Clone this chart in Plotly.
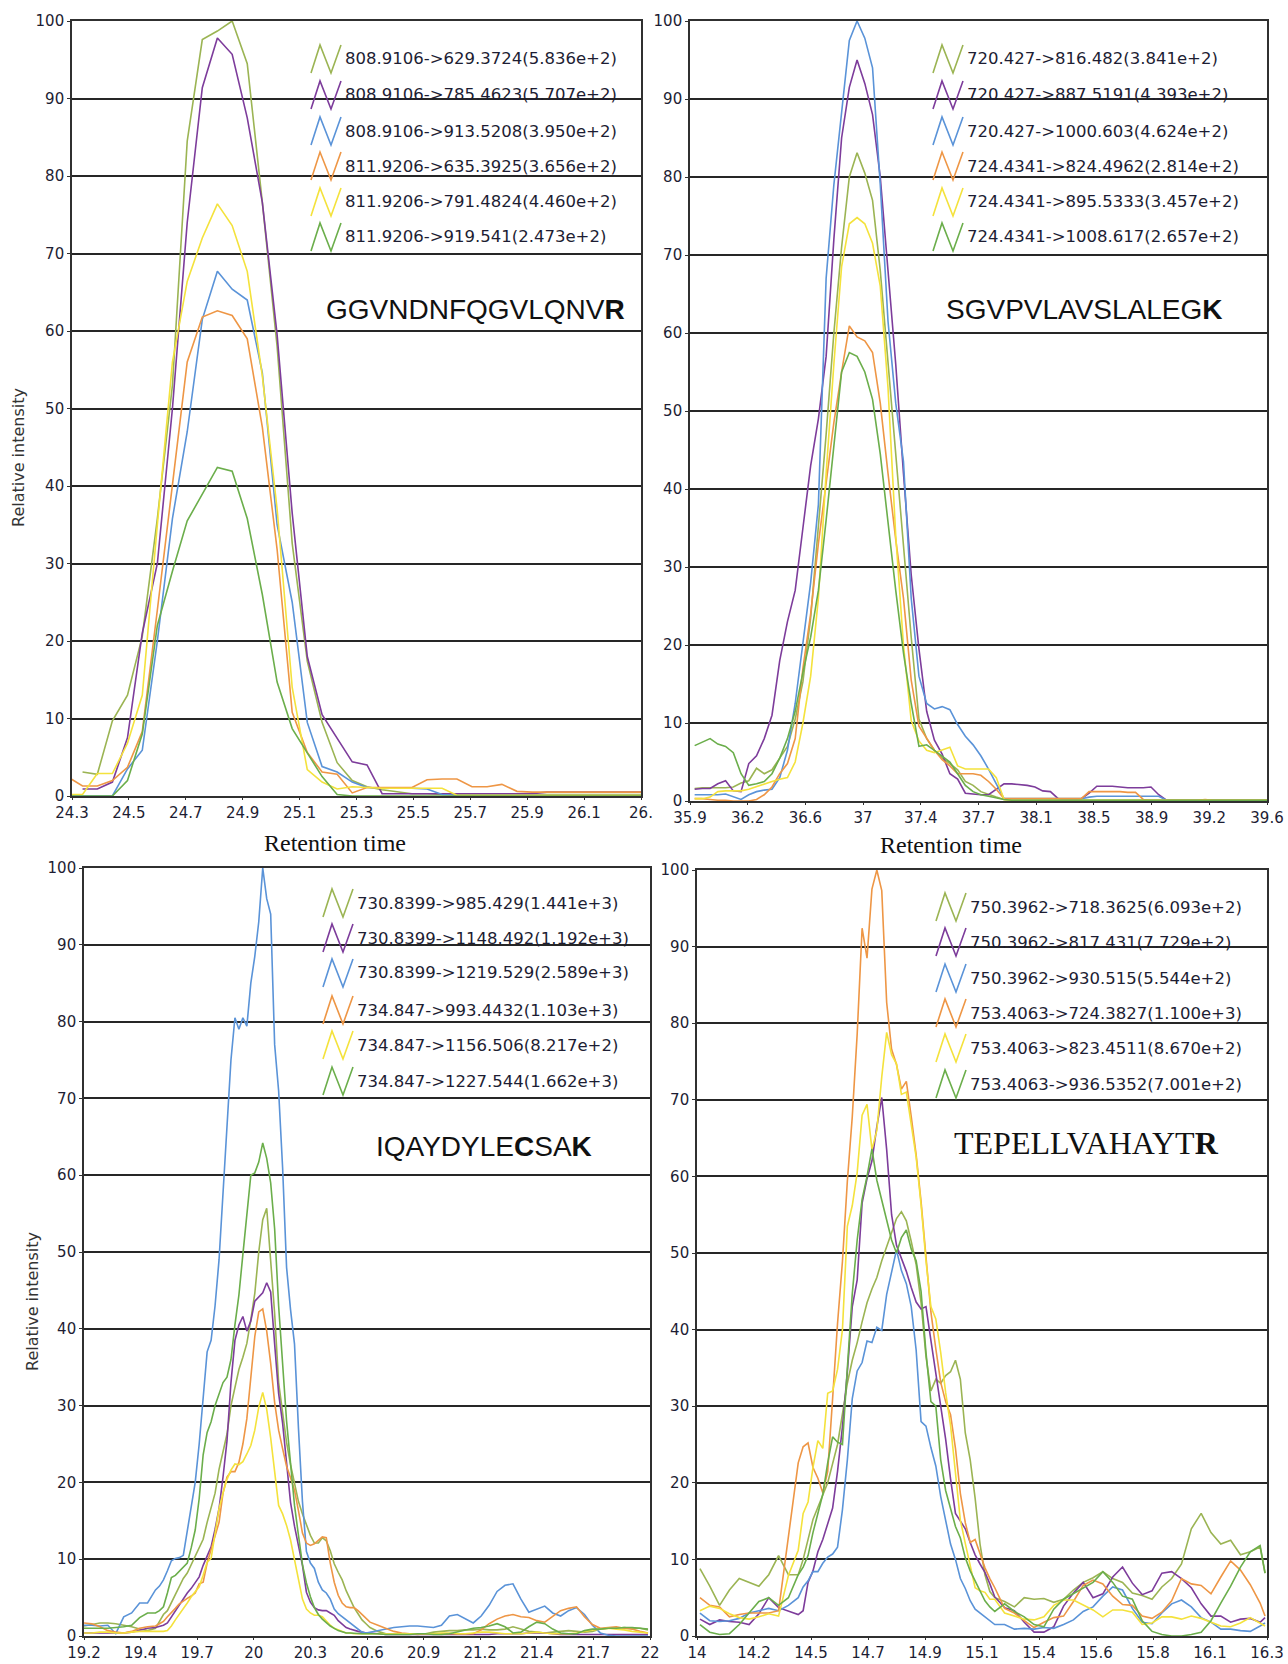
import plotly.graph_objects as go

FIG_W, FIG_H = 1288, 1664
COLORS = ["#9BB453", "#7D3C9B", "#5A93D8", "#EE9645", "#F4E23C", "#6BAE4B"]

# ---------------- Panel 1 : GGVNDNFQGVLQNVR ----------------
P1_LABELS = ["808.9106->629.3724(5.836e+2)", "808.9106->785.4623(5.707e+2)",
             "808.9106->913.5208(3.950e+2)", "811.9206->635.3925(3.656e+2)",
             "811.9206->791.4824(4.460e+2)", "811.9206->919.541(2.473e+2)"]
P1_TICKVALS = [24.3, 24.5, 24.7, 24.9, 25.1, 25.3, 25.5, 25.7, 25.9, 26.1, 26.3]
P1_TICKTEXT = ["24.3", "24.5", "24.7", "24.9", "25.1", "25.3", "25.5", "25.7", "25.9", "26.1", "26."]
P1_TIME = [24.284, 24.337, 24.389, 24.442, 24.495, 24.547, 24.600, 24.653, 24.705, 24.758,
           24.811, 24.863, 24.916, 24.969, 25.021, 25.074, 25.127, 25.179, 25.232, 25.285,
           25.337, 25.390, 25.443, 25.495, 25.548, 25.601, 25.653, 25.706, 25.759, 25.811,
           25.864, 25.917, 25.969, 26.022, 26.075, 26.127, 26.180, 26.233, 26.285, 26.338]
P1_S1 = [None, 3.1, 2.8, 9.7, 13, 20.6, 35.8, 53, 84.5, 97.6,
         98.7, 100, 94.5, 76.6, 58, 32.6, 17.4, 9.5, 4.3, 2,
         1.2, 0.8, 0.5, 0.3, 0.3, 0.2, 0.2, 0.2, 0.2, 0.2,
         0.2, 0.2, 0.2, 0.2, 0.2, 0.2, 0.2, 0.2, 0.2, 0.2]
P1_S2 = [None, 0.9, 0.9, 1.8, 7.5, 21, 30, 50, 74, 91.4,
         97.8, 95.7, 87.5, 76.6, 59.5, 36.5, 18, 10.5, 7.5, 4.4,
         4.0, 0.3, 0.3, 0.3, 0.3, 0.3, 0.3, 0.3, 0.3, 0.3,
         0.3, 0.3, 0.5, 0.5, 0.5, 0.5, 0.5, 0.5, 0.5, 0.5]
P1_S3 = [0, 0, 0, 0, 3.5, 5.9, 20, 35.8, 47, 61.5,
         67.7, 65.4, 64, 54.6, 35, 25, 9.5, 3.8, 3.1, 1.8,
         1.1, 1, 1, 1, 0.9, 0.2, 0.1, 0.1, 0.1, 0.1,
         0.1, 0.1, 0.1, 0.1, 0.1, 0.1, 0.1, 0.1, 0.1, 0.1]
P1_S4 = [2.5, 1.3, 1.3, 2, 3.7, 8.3, 24, 40, 56, 61.8,
         62.6, 62, 59, 47.6, 31.8, 10.8, 5.6, 3.1, 2.8, 0.4,
         1.1, 1.1, 1.1, 1.1, 2.1, 2.2, 2.2, 1.2, 1.2, 1.5,
         0.6, 0.5, 0.5, 0.5, 0.5, 0.5, 0.5, 0.5, 0.5, 0.5]
P1_S5 = [0.2, 0.2, 2.9, 2.9, 6.8, 13, 35, 56, 66.4, 72,
         76.4, 73.6, 67.7, 54.2, 37, 14, 3.4, 1.8, 0.9, 1.2,
         1.1, 1, 1, 1, 1, 1, 0.1, 0.1, 0.1, 0.1,
         0.1, 0.1, 0.1, 0.1, 0.1, 0.1, 0.1, 0.1, 0.1, 0.1]
P1_S6 = [0, 0, 0, 0, 2, 8, 22, 29, 35.5, 39,
         42.4, 41.9, 35.8, 26, 14.7, 8.7, 5.5, 2.5, 0.2, 0,
         0, 0, 0, 0, 0, 0, 0, 0, 0, 0,
         0, 0, 0, 0, 0, 0, 0, 0, 0, 0]

# ---------------- Panel 2 : SGVPVLAVSLALEGK ----------------
P2_LABELS = ["720.427->816.482(3.841e+2)", "720.427->887.5191(4.393e+2)",
             "720.427->1000.603(4.624e+2)", "724.4341->824.4962(2.814e+2)",
             "724.4341->895.5333(3.457e+2)", "724.4341->1008.617(2.657e+2)"]
P2_TICKVALS = [35.87, 36.243, 36.616, 36.989, 37.362, 37.735, 38.108, 38.481, 38.854, 39.227, 39.6]
P2_TICKTEXT = ["35.9", "36.2", "36.6", "37", "37.4", "37.7", "38.1", "38.5", "38.9", "39.2", "39.6"]
P2_TIME = [35.90, 35.95, 36.00, 36.05, 36.10, 36.15, 36.20, 36.25, 36.30, 36.35,
           36.40, 36.45, 36.50, 36.55, 36.60, 36.65, 36.70, 36.75, 36.80, 36.85,
           36.90, 36.95, 37.00, 37.05, 37.10, 37.15, 37.20, 37.25, 37.30, 37.35,
           37.40, 37.45, 37.50, 37.55, 37.60, 37.65, 37.70, 37.75, 37.80, 37.85,
           37.90, 37.95, 38.00, 38.05, 38.10, 38.15, 38.20, 38.25, 38.30, 38.35,
           38.40, 38.45, 38.50, 38.55, 38.60, 38.65, 38.70, 38.75, 38.80, 38.85,
           38.90, 38.95, 39.00, 39.05, 39.10, 39.15, 39.20, 39.25, 39.30, 39.35,
           39.40, 39.45, 39.50, 39.55, 39.60]
P2_S1 = [1.6, 1.7, 1.7, 1.7, 1.7, 1.8, 2.3, 2.6, 4.2, 3.5,
         4, 5.5, 7, 10.5, 15.3, 23.5, 35, 47, 60, 71,
         80, 83.1, 80.5, 77, 68, 56, 44, 32, 21, 10.5,
         8, 6.5, 5.5, 4.8, 4, 2.5, 2, 1.2, 0.8, 0.5,
         0.2, 0.1, 0.1, 0.1, 0.1, 0.1, 0.1, 0.1, 0.1, 0.1,
         0.1, 0.1, 0.1, 0.1, 0.1, 0.1, 0.1, 0.1, 0.1, 0.1,
         0.1, 0.1, 0.1, 0.1, 0.1, 0.1, 0.1, 0.1, 0.1, 0.1,
         0.1, 0.1, 0.1, 0.1, 0.1]
P2_S2 = [1.5, 1.6, 1.6, 2.2, 2.6, 1.3, 1.2, 4.8, 5.8, 8,
         11, 18, 23, 27, 35, 43, 49, 57, 72, 85,
         91.5, 95, 92, 88, 80, 68, 56, 42, 29, 19.5,
         11.5, 7.8, 6, 3.5, 2.8, 1.0, 0.9, 0.8, 0.8, 1.5,
         2.2, 2.2, 2.1, 2.0, 1.8, 1.3, 1.2, 0.3, 0.2, 0.2,
         0.3, 1.0, 1.9, 1.9, 1.9, 1.8, 1.7, 1.7, 1.7, 1.8,
         0.8, 0.1, 0.1, 0.1, 0.1, 0.1, 0.1, 0.1, 0.1, 0.1,
         0.1, 0.1, 0.1, 0.1, 0.1]
P2_S3 = [0.8, 0.8, 0.8, 0.8, 0.9, 0.6, 0.2, 0.8, 1.2, 1.4,
         1.5, 3, 6.5, 12.5, 20, 28, 38, 67, 79, 88.5,
         97.5, 100, 97.8, 94, 79, 61.5, 51, 43.5, 26, 16,
         12.5, 11.8, 12.1, 11.7, 9.8, 8.3, 7.2, 5.8, 4.1, 2.2,
         0.3, 0.3, 0.3, 0.3, 0.3, 0.3, 0.3, 0.3, 0.3, 0.3,
         0.3, 0.5, 0.6, 0.6, 0.6, 0.6, 0.6, 0.6, 0.6, 0.6,
         0.6, 0.1, 0.1, 0.1, 0.1, 0.1, 0.1, 0.1, 0.1, 0.1,
         0.1, 0.1, 0.1, 0.1, 0.1]
P2_S4 = [0.3, 0.3, 0.2, 0.1, 0.1, 0, 0, 0, 0.2, 0.8,
         1.8, 3.5, 4.8, 8, 17, 24, 33, 41, 48.5, 55,
         60.9, 59.5, 59, 57.5, 51, 42, 33.5, 26, 15.5, 9.6,
         8, 6.5, 5.3, 4.5, 3.5, 3.5, 3.5, 3.3, 2.5, 1.5,
         0.3, 0.3, 0.3, 0.3, 0.3, 0.3, 0.3, 0.3, 0.3, 0.3,
         0.3, 1.2, 1.2, 1.2, 1.2, 1.2, 1.1, 1.1, 0.2, 0.1,
         0.1, 0.1, 0.1, 0.1, 0.1, 0.1, 0.2, 0.1, 0.1, 0.1,
         0.1, 0.1, 0.1, 0.1, 0.1]
P2_S5 = [0.3, 0.3, 0.5, 1.2, 1.3, 1.3, 1.3, 1.5, 1.8, 2.2,
         2.5, 2.8, 3, 5, 10, 16, 26, 42, 56, 68.5,
         74, 74.8, 74, 71.5, 66, 53, 34, 20, 10.3, 7.7,
         6.5, 6.2, 6.5, 6.9, 4.5, 4.1, 4.1, 4.1, 4.1, 3,
         0.2, 0.1, 0.1, 0.1, 0.1, 0.1, 0.1, 0.1, 0.1, 0.1,
         0.1, 0.1, 0.1, 0.1, 0.1, 0.1, 0.1, 0.1, 0.1, 0.1,
         0.1, 0.1, 0.1, 0.1, 0.1, 0.1, 0.1, 0.1, 0.1, 0.1,
         0.1, 0.1, 0.1, 0.1, 0.1]
P2_S6 = [7.1, 7.5, 8, 7.3, 7, 6.2, 3.5, 2, 2.2, 2.5,
         3.5, 5.5, 8, 11.5, 16.5, 21, 27, 36, 45.5, 55,
         57.5, 57, 55, 51.5, 44.5, 35.5, 27, 19, 12.5, 7,
         7.2, 6.5, 5.8, 5, 3.5, 2, 1.2, 0.8, 0.6, 0.4,
         0.2, 0.1, 0.1, 0.1, 0.1, 0.1, 0.1, 0.1, 0.1, 0.1,
         0.1, 0.1, 0.1, 0.1, 0.1, 0.1, 0.1, 0.1, 0.1, 0.1,
         0.1, 0.1, 0.1, 0.1, 0.1, 0.1, 0.1, 0.1, 0.1, 0.1,
         0.1, 0.1, 0.1, 0.1, 0.1]

# ---------------- Panel 3 : IQAYDYLECSAK ----------------
P3_LABELS = ["730.8399->985.429(1.441e+3)", "730.8399->1148.492(1.192e+3)",
             "730.8399->1219.529(2.589e+3)", "734.847->993.4432(1.103e+3)",
             "734.847->1156.506(8.217e+2)", "734.847->1227.544(1.662e+3)"]
P3_TICKVALS = [19.16, 19.445, 19.73, 20.015, 20.3, 20.585, 20.87, 21.155, 21.44, 21.725, 22.01]
P3_TICKTEXT = ["19.2", "19.4", "19.7", "20", "20.3", "20.6", "20.9", "21.2", "21.4", "21.7", "22"]
P3_TIME = [19.16, 19.20, 19.24, 19.28, 19.32, 19.36, 19.40, 19.44, 19.48,
           19.52, 19.54, 19.56, 19.58, 19.60, 19.62, 19.64, 19.66, 19.68, 19.70,
           19.72, 19.74, 19.76, 19.78, 19.80, 19.82, 19.84, 19.86, 19.88, 19.90,
           19.92, 19.94, 19.96, 19.98, 20.00, 20.02, 20.04, 20.06, 20.08, 20.10,
           20.12, 20.14, 20.16, 20.18, 20.20, 20.22, 20.24, 20.26, 20.28, 20.30,
           20.32, 20.34, 20.36, 20.38, 20.40, 20.42, 20.44, 20.46, 20.48, 20.50,
           20.52, 20.54, 20.56, 20.58, 20.60,
           20.64, 20.68, 20.72, 20.76, 20.80, 20.84, 20.88, 20.92, 20.96, 21.00,
           21.04, 21.08, 21.12, 21.16, 21.20, 21.24, 21.28, 21.32, 21.36, 21.40,
           21.44, 21.48, 21.52, 21.56, 21.60, 21.64, 21.68, 21.72, 21.76, 21.80,
           21.84, 21.88, 21.92, 21.96, 22.00]
P3_S1 = [1.3, 1.5, 1.7, 1.7, 1.6, 1.4, 1.2, 0.9, 0.7,
         1, 2, 2.8, 3.3, 4.3, 5.4, 6.5, 7.5, 8.2, 9.3,
         10.3, 11.3, 12.6, 14.8, 16.9, 18.6, 21.7, 24.2, 26.3, 30,
         32.3, 34.7, 36.3, 38.1, 41.2, 44.6, 50, 54.2, 55.7, 48.7,
         42, 33, 29.3, 25.2, 22.3, 19.7, 17.5, 15.9, 14.4, 13.1,
         12.1, 12.1, 12.8, 12.4, 11.1, 9.4, 8.3, 7.3, 5.9, 4.8,
         3.7, 2.9, 2.1, 1.6, 1.1,
         0.6, 0.3, 0.3, 0.3, 0.3, 0.2, 0.3, 0.5, 0.6, 0.7,
         0.7, 0.8, 0.8, 0.9, 0.8, 0.8, 0.9, 1.2, 0.9, 0.6,
         0.5, 0.4, 0.5, 0.6, 0.7, 0.6, 0.5, 0.6, 0.9, 1.0,
         1.0, 1.1, 1.0, 1.0, 0.8]
P3_S2 = [0.4, 0.4, 0.4, 0.4, 0.4, 0.4, 0.5, 0.8, 1,
         1.1, 1.2, 1.4, 1.7, 2.5, 3.3, 4, 4.8, 5.6, 6.2,
         6.9, 7.7, 9.2, 10.4, 11.6, 13.9, 16.6, 20.7, 25.4, 33,
         38.5, 40.5, 41.6, 39.7, 41, 43.6, 44.1, 44.7, 46, 44.8,
         38, 31.6, 27.7, 22.2, 17.4, 14.3, 11.9, 9.2, 5.7, 4.4,
         3.7, 3.4, 3.3, 3.3, 3, 2.7, 2, 1.5, 1.1, 0.9,
         0.7, 0.6, 0.5, 0.4, 0.4,
         0.3, 0.2, 0.2, 0.2, 0.2, 0.2, 0.2, 0.2, 0.2, 0.2,
         0.2, 0.2, 0.2, 0.2, 0.2, 0.3, 0.3, 0.3, 0.3, 0.4,
         0.4, 0.4, 0.3, 0.2, 0.2, 0.2, 0.2, 0.2, 0.2, 0.2,
         0.2, 0.2, 0.2, 0.2, 0.2]
P3_S3 = [1.4, 1.4, 1.3, 1.4, 0.3, 2.5, 3.0, 4.3, 4.3,
         6, 6.5, 7.3, 8.5, 9.8, 10.1, 10.2, 10.5, 13.5, 16.5,
         20, 25, 31, 37, 38.5, 43, 49, 58, 66, 75,
         80.5, 79, 80.5, 79.4, 85, 88.5, 93, 100, 96, 94,
         77, 71, 61, 48, 42.5, 38, 27, 17.5, 11, 9.5,
         8.8, 7, 6, 5.6, 4.8, 3.5, 2.9, 2.5, 2.2, 1.7,
         1.3, 0.9, 0.5, 0.4, 0.5,
         0.7, 0.9, 1.1, 1.2, 1.3, 1.3, 1.2, 1.1, 1.4, 2.6,
         2.8, 2.3, 1.7, 2.6, 4, 5.8, 6.6, 6.8, 4.8, 3.1,
         3.5, 3.9, 3, 2.6, 3.3, 3.7, 2.8, 1.4, 0.4, 0.1,
         0, 0, 0, 0, 0]
P3_S4 = [1.7, 1.6, 1.2, 0.7, 0.5, 0.4, 0.6, 1.0, 1.2,
         1.3, 1.6, 1.9, 2.5, 3, 3.6, 4.2, 4.6, 4.9, 5.2,
         5.6, 6.8, 7, 9.5, 11.3, 12.9, 14.8, 18.6, 20.7, 21.4,
         21.4, 22.6, 25, 28.3, 33.4, 39, 42.2, 42.6, 39.7, 35.5,
         30.4, 26.8, 24.4, 22.1, 20.6, 19, 16.3, 13.4, 12.1, 11.8,
         12, 12.5, 12.9, 12.8, 9.5, 7, 5.3, 4.3, 3.8, 3.7,
         3.7, 3.3, 2.8, 2.2, 1.8,
         1.4, 1.0, 0.6, 0.4, 0.3, 0.3, 0.3, 0.3, 0.3, 0.3,
         0.3, 0.3, 0.3, 0.8, 1.6, 2.2, 2.6, 2.8, 2.5, 2.4,
         2.0, 1.8, 2.5, 3.3, 3.6, 3.8, 2.5, 1.5, 1.0, 1.1,
         1.2, 1.0, 0.9, 0.6, 0.4]
P3_S5 = [0.4, 0.4, 0.5, 0.5, 0.4, 0.4, 0.5, 0.6, 0.6,
         0.6, 0.6, 0.6, 0.7, 1.3, 2.1, 2.8, 3.5, 4.3, 5.1,
         5.8, 6.4, 7.9, 9.6, 10.1, 13.5, 16.6, 18.6, 20.4, 21.6,
         22.4, 22.3, 22.7, 23.7, 24.8, 26.8, 29.8, 31.7, 29.5, 25.8,
         21.7, 17, 15.9, 14.4, 12.5, 10, 7.2, 4.8, 3.5, 3,
         2.7, 2.7, 2.5, 1.9, 1.4, 1, 0.8, 0.6, 0.4, 0.4,
         0.3, 0.3, 0.3, 0.3, 0.3,
         0.3, 0.3, 0.3, 0.3, 0.3, 0.3, 0.3, 0.3, 0.4, 0.4,
         0.3, 0.3, 0.4, 0.5, 0.5, 0.4, 0.3, 0.3, 0.3, 0.4,
         0.5, 0.4, 0.3, 0.3, 0.3, 0.4, 0.6, 0.8, 0.9, 1.0,
         0.9, 0.8, 0.6, 0.5, 0.4]
P3_S6 = [1, 1, 1, 1, 1.1, 1.2, 1.4, 2.4, 3,
         3, 3.3, 3.8, 5.6, 7.6, 7.9, 8.4, 9, 9.5, 11.5,
         13.8, 17.9, 23.6, 26.5, 27.9, 30, 31.4, 33, 33.7, 36,
         40.5, 44.4, 49.7, 54.5, 60, 60.3, 61.7, 64.2, 62.2, 59,
         53, 43, 35.3, 28, 22.5, 17, 13.1, 9.3, 6.9, 5.1,
         3.7, 2.8, 2.2, 1.7, 1.3, 1, 0.7, 0.55, 0.4, 0.4,
         0.35, 0.3, 0.3, 0.3, 0.3,
         0.3, 0.2, 0.2, 0.2, 0.2, 0.3, 0.3, 0.2, 0.2, 0.3,
         0.5, 0.8, 1.0, 1.1, 1.3, 1.6, 1.2, 0.4, 0.5, 1.2,
         1.8, 1.6, 0.9, 0.4, 0.3, 0.3, 0.7, 0.9, 0.9, 1.0,
         1.0, 1.1, 1.1, 1.0, 0.9]

# ---------------- Panel 4 : TEPELLVAHAYTR ----------------
P4_LABELS = ["750.3962->718.3625(6.093e+2)", "750.3962->817.431(7.729e+2)",
             "750.3962->930.515(5.544e+2)", "753.4063->724.3827(1.100e+3)",
             "753.4063->823.4511(8.670e+2)", "753.4063->936.5352(7.001e+2)"]
P4_TICKVALS = [13.988, 14.22, 14.452, 14.684, 14.916, 15.148, 15.38, 15.612, 15.844, 16.076, 16.308]
P4_TICKTEXT = ["14", "14.2", "14.5", "14.7", "14.9", "15.1", "15.4", "15.6", "15.8", "16.1", "16.3"]
P4_TIME = [14.00, 14.04, 14.08, 14.12, 14.16, 14.20, 14.24, 14.28, 14.32, 14.36, 14.40,
           14.42, 14.44, 14.46, 14.48, 14.50, 14.52, 14.54, 14.56, 14.58, 14.60,
           14.62, 14.64, 14.66, 14.68, 14.70, 14.72, 14.74, 14.76, 14.78, 14.80,
           14.82, 14.84, 14.86, 14.88, 14.90, 14.92, 14.94, 14.96, 14.98, 15.00,
           15.02, 15.04, 15.06, 15.08, 15.10, 15.12, 15.14, 15.16, 15.18, 15.20,
           15.24, 15.28, 15.32, 15.36, 15.40, 15.44, 15.48, 15.52, 15.56, 15.60,
           15.64, 15.68, 15.72, 15.76, 15.80, 15.84, 15.88, 15.92, 15.96, 16.00,
           16.04, 16.08, 16.12, 16.16, 16.20, 16.24, 16.28, 16.30]
P4_S1 = [8.8, 6.5, 4, 6, 7.5, 7, 6.5, 8, 10.5, 8, 8,
         10, 12.8, 15.2, 16.8, 18.5, 20, 22.5, 25, 29, 33,
         36, 38.3, 41, 43.5, 45.3, 46.8, 49, 50.8, 52.5, 54.5,
         55.4, 54.2, 51.5, 48.5, 43.5, 36.5, 32, 33.5, 33, 34,
         34.5, 36, 33.5, 26.5, 23, 18, 12, 8, 5.8, 5,
         4.5, 3.8, 5, 4.8, 4.9, 4.4, 4.8, 6, 7, 7.6,
         8.4, 7.5, 7, 5.6, 5.3, 4.8, 6.4, 7.5, 9.4, 14,
         16, 13.5, 12, 12.5, 10.6, 11, 11.6, 8.2]
P4_S2 = [2.2, 1.5, 2.1, 1.9, 1.8, 1.5, 2.9, 5, 3.7, 3.2, 2.8,
         3.3, 7, 8.5, 11, 12.6, 14.8, 16.7, 21.5, 27.3, 34.5,
         43, 46.5, 56.5, 59.7, 62, 66.5, 70.3, 63.5, 55, 51,
         49.3, 47.6, 45.5, 43.6, 42.7, 43, 38.6, 34.5, 30.2, 25.7,
         20.5, 16, 15, 14, 12.2, 10.6, 9.4, 8.3, 6.8, 5.1,
         3.7, 3.3, 1.8, 0.5, 0.5, 1.2, 3.9, 5.6, 7, 5,
         5.5, 7.7, 9, 6.9, 5.4, 5.9, 8.2, 8.4, 7.5, 6.3,
         4.2, 2.6, 2.6, 1.8, 2.2, 2.3, 1.8, 2.4]
P4_S3 = [3, 2, 1.9, 2, 2.3, 3, 3.3, 3.6, 3.3, 4, 5,
         6.4, 7.2, 8.4, 8.4, 9.5, 10.3, 10.7, 11.6, 16.5, 23,
         31, 34.6, 35.7, 38.5, 38.3, 40.3, 39.9, 44.6, 47.4, 50.4,
         47.7, 46, 43, 37.3, 28, 27.4, 24.6, 22.2, 18.2, 15,
         12, 10, 7.5, 6.2, 4.6, 3.5, 3, 2.4, 2, 1.5,
         1.5, 0.9, 1, 0.9, 1.1, 1, 1.5, 2.1, 3.2, 3.8,
         5.2, 6.4, 6, 3.6, 1.8, 1.6, 3, 4.2, 4.7, 3.8,
         2.4, 1.8, 0.9, 0.9, 0.7, 0.6, 1.3, 1.7]
P4_S4 = [5, 4, 3.8, 2.5, 2.8, 3, 3, 3, 3.3, 12.8, 22.6,
         24.7, 25.2, 22, 20.6, 18.7, 21.5, 31, 40.8, 48.9, 59.4,
         67.8, 78.6, 92.4, 88.5, 97.5, 100, 97.3, 82.7, 76.6, 74.6,
         71.4, 72.4, 67.8, 62.8, 56.7, 49.6, 42.3, 37.5, 33.1, 30.6,
         28.9, 24.5, 18.6, 14.8, 12.2, 12.6, 10.6, 8.9, 7.5, 6.3,
         3.6, 3, 2, 1.1, 1.8, 2.4, 2.6, 4.5, 6.6, 7.3,
         6.8, 5.2, 4.1, 4, 2.6, 2.3, 3.1, 4.6, 7.5, 6.8,
         6.6, 5.5, 7.7, 9.8, 8.6, 6.7, 4.3, 2.6]
P4_S5 = [3.3, 3.9, 3.6, 2.9, 2.4, 2.2, 2.5, 2.9, 2.6, 7.9, 11.2,
         16, 17.5, 22, 25.5, 24.5, 31.7, 32, 34.8, 40, 53.5,
         56.2, 60.5, 68, 69.4, 63.5, 66, 73, 78.8, 75.9, 74.7,
         70.7, 71, 66.5, 62.5, 56.3, 49, 43, 41.4, 37, 31.8,
         27.5, 21.3, 15.1, 12.1, 9.3, 6.3, 5.9, 5.7, 4.8, 4.8,
         3, 2.6, 2.2, 2.1, 2.5, 4, 4.7, 4.7, 4, 3.4,
         2.5, 3.4, 3.4, 3.1, 1.5, 1.7, 2.5, 2.5, 2.2, 2.6,
         2.3, 1.8, 1.3, 1.2, 1.7, 2.4, 1.6, 1.3]
P4_S6 = [1.5, 0.5, 0.2, 0.3, 1.5, 3, 4.5, 5, 4, 5, 8,
         9, 10.5, 13.5, 16, 18.5, 22.6, 26, 25.3, 25, 35,
         44.7, 51.7, 57, 60, 63.6, 59.5, 57, 54.5, 51.7, 50,
         52, 53, 50.5, 49, 45, 37, 30.6, 30, 23, 19,
         16.5, 14.3, 12.8, 10.2, 8.5, 7.2, 6, 4.6, 3.8, 3.2,
         4.2, 3.2, 2.5, 1.5, 1.2, 3.5, 4.8, 5.5, 6.2, 7,
         8.4, 7, 5.2, 4.8, 2, 0.6, 0.2, 0, 0, 0.2,
         0.5, 2, 4.3, 6.5, 9, 11, 11.8, 8.2]

Y_TICKS = [0, 10, 20, 30, 40, 50, 60, 70, 80, 90, 100]

# ---------------- layout helpers (pixel boxes of the four panels) ----------------
def fx(px):
    return px / FIG_W

def fy(py):
    return 1 - py / FIG_H

PANELS = [
    dict(time=P1_TIME, series=[P1_S1, P1_S2, P1_S3, P1_S4, P1_S5, P1_S6], labels=P1_LABELS,
         box=(72, 641, 21, 796), xr=[24.3, 26.3], tv=P1_TICKVALS, tt=P1_TICKTEXT,
         pep="GGVNDNFQGVLQNV<b>R</b>", pep_font="Liberation Sans", pep_size=28, pep_xy=(627, 310),
         icon_x=311, rows=[59, 95, 131, 166, 202, 237]),
    dict(time=P2_TIME, series=[P2_S1, P2_S2, P2_S3, P2_S4, P2_S5, P2_S6], labels=P2_LABELS,
         box=(690, 1267, 21, 801), xr=[35.87, 39.6], tv=P2_TICKVALS, tt=P2_TICKTEXT,
         pep="SGVPVLAVSLALEG<b>K</b>", pep_font="Liberation Sans", pep_size=28, pep_xy=(1225, 310),
         icon_x=933, rows=[59, 95, 131, 166, 202, 237]),
    dict(time=P3_TIME, series=[P3_S1, P3_S2, P3_S3, P3_S4, P3_S5, P3_S6], labels=P3_LABELS,
         box=(84, 650, 868, 1636), xr=[19.16, 22.01], tv=P3_TICKVALS, tt=P3_TICKTEXT,
         pep="IQAYDYLE<b>C</b>SA<b>K</b>", pep_font="Liberation Sans", pep_size=28, pep_xy=(594, 1146),
         icon_x=323, rows=[903, 938, 973, 1010, 1045, 1081]),
    dict(time=P4_TIME, series=[P4_S1, P4_S2, P4_S3, P4_S4, P4_S5, P4_S6], labels=P4_LABELS,
         box=(697, 1267, 870, 1636), xr=[13.988, 16.308], tv=P4_TICKVALS, tt=P4_TICKTEXT,
         pep="TEPELLVAHAYT<b>R</b>", pep_font="Liberation Serif", pep_size=32, pep_xy=(1221, 1143),
         icon_x=936, rows=[907, 942, 978, 1013, 1048, 1084]),
]

for p in PANELS:
    for s in p["series"]:
        assert len(s) == len(p["time"]), (len(s), len(p["time"]))

fig = go.Figure()
layout = dict(width=FIG_W, height=FIG_H, margin=dict(l=0, r=0, t=0, b=0, pad=0),
              autosize=False, template="none",
              paper_bgcolor="white", plot_bgcolor="white", showlegend=False)
annotations = []
shapes = []

TICK_COLOR = "#1d1d33"
LINE_COLOR = "#303030"

for i, p in enumerate(PANELS):
    n = "" if i == 0 else str(i + 1)
    x0, x1, y0, y1 = p["box"]
    for k, s in enumerate(p["series"]):
        fig.add_trace(go.Scatter(x=p["time"], y=s, mode="lines", name=p["labels"][k],
                                 line=dict(color=COLORS[k], width=1.6),
                                 xaxis="x" + n, yaxis="y" + n, hoverinfo="x+y+name"))
    layout["xaxis" + n] = dict(domain=[fx(x0), fx(x1)], range=p["xr"], anchor="y" + n,
                               automargin=False,
                               tickmode="array", tickvals=p["tv"], ticktext=p["tt"],
                               showgrid=False, zeroline=False, showline=True, mirror=True,
                               linecolor=LINE_COLOR, linewidth=1.6, ticks="outside", ticklen=2,
                               tickcolor=LINE_COLOR,
                               tickfont=dict(family="DejaVu Sans", size=15, color=TICK_COLOR))
    layout["yaxis" + n] = dict(domain=[fy(y1), fy(y0)], range=[0, 100], anchor="x" + n,
                               automargin=False,
                               tickmode="array", tickvals=Y_TICKS,
                               showgrid=True, gridcolor="#262626", gridwidth=1.7,
                               zeroline=False, showline=True, mirror=True,
                               linecolor=LINE_COLOR, linewidth=1.6, ticks="outside", ticklen=3,
                               tickcolor=LINE_COLOR,
                               tickfont=dict(family="DejaVu Sans", size=15, color=TICK_COLOR))
    # legend-like zigzag icons and labels
    for k, yc in enumerate(p["rows"]):
        ix = p["icon_x"]
        pts = [(ix, yc + 14), (ix + 9, yc - 14), (ix + 20, yc + 14), (ix + 30, yc - 14)]
        path = "M " + " L ".join(f"{fx(a):.5f},{fy(b):.5f}" for a, b in pts)
        shapes.append(dict(type="path", path=path, xref="paper", yref="paper",
                           line=dict(color=COLORS[k], width=1.6)))
        annotations.append(dict(text=p["labels"][k], x=fx(ix + 32), y=fy(yc),
                                xref="paper", yref="paper", xanchor="left", yanchor="middle",
                                showarrow=False,
                                font=dict(family="DejaVu Sans", size=16.5, color=TICK_COLOR)))
    px_, py_ = p["pep_xy"]
    annotations.append(dict(text=p["pep"], x=fx(px_), y=fy(py_), xref="paper", yref="paper",
                            xanchor="right", yanchor="middle", showarrow=False,
                            font=dict(family=p["pep_font"], size=p["pep_size"], color="#111111")))

# axis titles
annotations.append(dict(text="Retention time", x=fx(335), y=fy(843), xref="paper", yref="paper",
                        showarrow=False, xanchor="center", yanchor="middle",
                        font=dict(family="Liberation Serif", size=24, color="#111111")))
annotations.append(dict(text="Retention time", x=fx(951), y=fy(845), xref="paper", yref="paper",
                        showarrow=False, xanchor="center", yanchor="middle",
                        font=dict(family="Liberation Serif", size=24, color="#111111")))
annotations.append(dict(text="Relative intensity", x=fx(19), y=fy(458), xref="paper", yref="paper",
                        showarrow=False, textangle=-90, xanchor="center", yanchor="middle",
                        font=dict(family="DejaVu Sans", size=16, color="#333333")))
annotations.append(dict(text="Relative intensity", x=fx(32), y=fy(1302), xref="paper", yref="paper",
                        showarrow=False, textangle=-90, xanchor="center", yanchor="middle",
                        font=dict(family="DejaVu Sans", size=16, color="#333333")))

layout["annotations"] = annotations
layout["shapes"] = shapes
fig.update_layout(**layout)
fig.write_html("out.html", config={"displayModeBar": False},
               post_script="document.body.style.margin='0';document.body.style.padding='0';"
                           "document.documentElement.style.overflow='hidden';")
